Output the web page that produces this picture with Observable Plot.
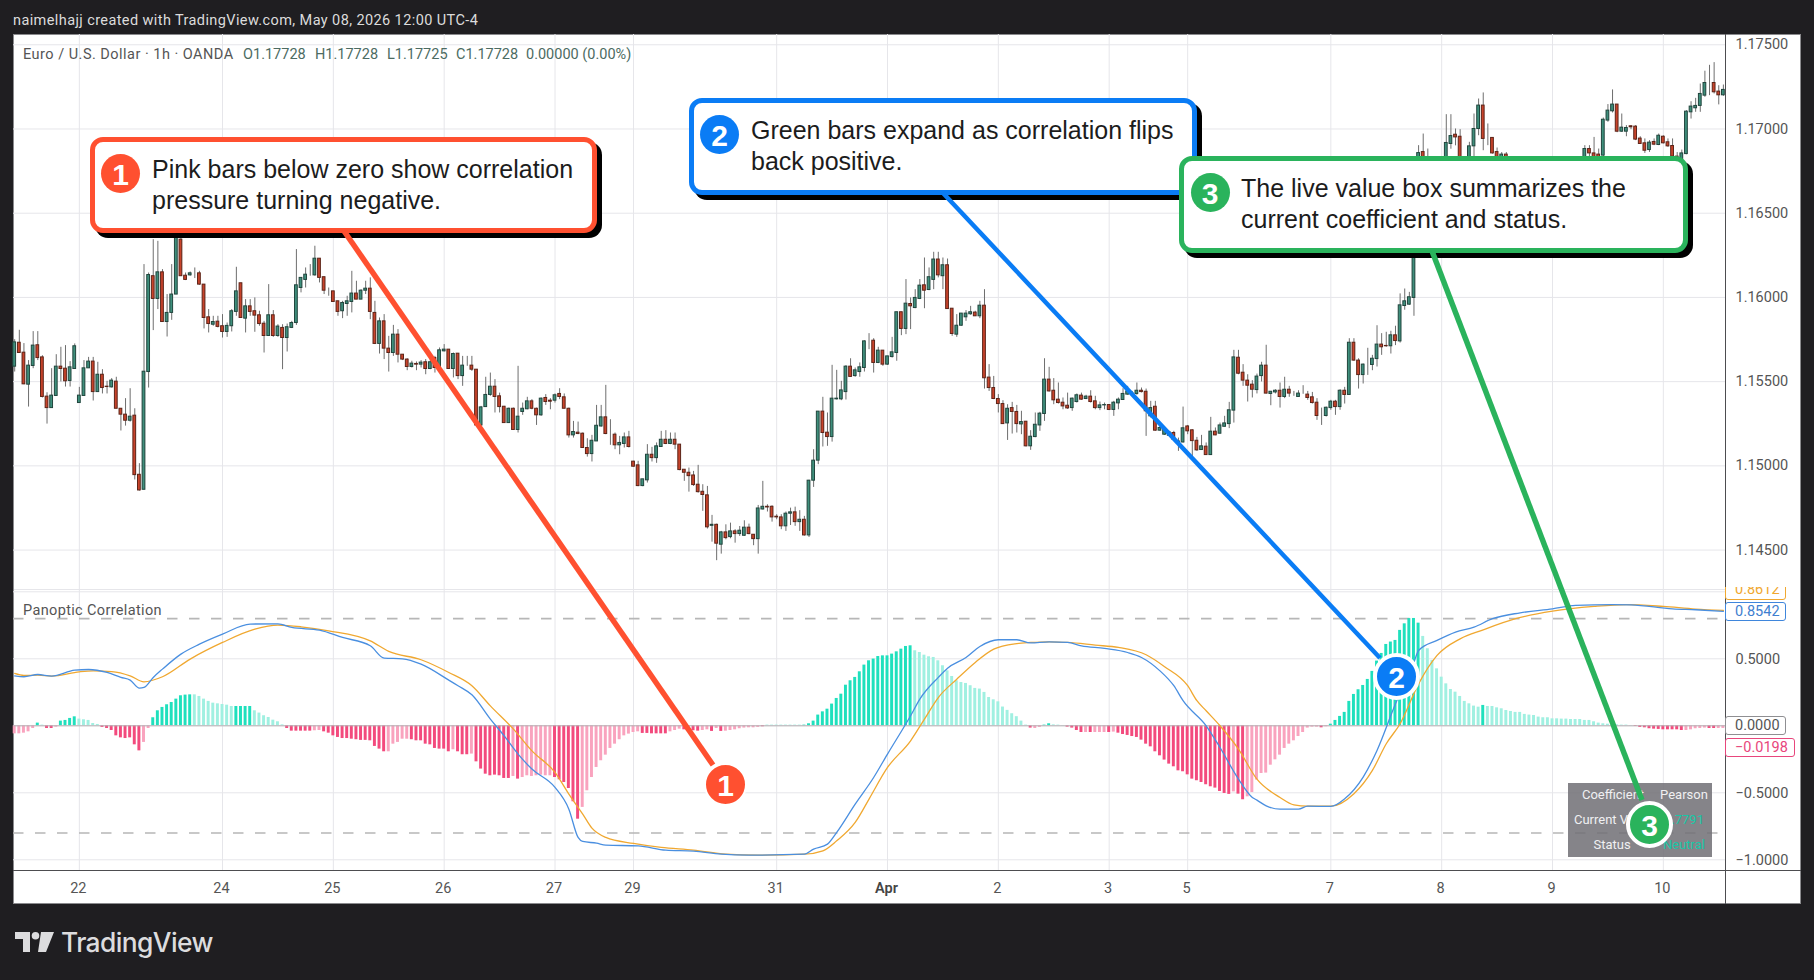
<!DOCTYPE html>
<html>
<head>
<meta charset="utf-8">
<script src="https://cdn.jsdelivr.net/npm/d3@7"></script>
<script src="https://cdn.jsdelivr.net/npm/@observablehq/plot@0.6"></script>
<style>
html,body{margin:0;padding:0;background:#1f1e21;}
#root{position:relative;width:1814px;height:980px;overflow:hidden;background:#1f1e21;font-family:Roboto,sans-serif;}
#root>*{position:absolute;}
#panel{left:13px;top:34px;width:1788px;height:870px;background:#fff;box-shadow:inset 0 0 0 1px #8a8a8d;}
#price,#corr{left:13px;}
#price{top:34px;}#corr{top:590px;}
svg{display:block;background:transparent;overflow:visible;}
.tv{color:#555;font-size:14.5px;white-space:nowrap;line-height:18px;}
.callout{box-sizing:border-box;border:5.5px solid;border-radius:13px;background:#fff;box-shadow:5px 5px 0 #000;}
.ctext{font-family:"Liberation Sans",Arial,sans-serif;font-size:25px;line-height:31px;color:#1c1c1c;white-space:nowrap;}
.badge{box-sizing:content-box;border-radius:50%;color:#fff;font-family:"Liberation Sans",Arial,sans-serif;font-weight:700;font-size:30px;text-align:center;}
.plabel{box-sizing:border-box;background:#fff;border:1.3px solid;border-radius:3px;font-size:14.5px;height:19.5px;line-height:18px;padding-left:9px;white-space:nowrap;}
.cell{font-size:13px;color:#f0f0f2;white-space:nowrap;transform:translateX(-50%);line-height:16px;}
</style>
</head>
<body>
<div id="root">
  <div class="tv" style="left:13px;top:11.5px;color:#dcdcdc;letter-spacing:.4px">naimelhajj created with TradingView.com, May 08, 2026 12:00 UTC-4</div>
  <div id="panel"></div>
  <div style="left:14px;top:589px;width:1711px;height:1px;background:#e6e6ea"></div>
  <div id="price"></div>
  <div id="corr"></div>
  <div class="tv" style="left:23px;top:46px;letter-spacing:.48px">Euro / U.S. Dollar · 1h · OANDA</div>
  <div class="tv" style="left:243px;top:46px;color:#4c6b62">O1.17728</div>
  <div class="tv" style="left:315px;top:46px;color:#4c6b62">H1.17728</div>
  <div class="tv" style="left:387px;top:46px;color:#4c6b62">L1.17725</div>
  <div class="tv" style="left:456px;top:46px;color:#4c6b62">C1.17728</div>
  <div class="tv" style="left:526px;top:46px;color:#4c6b62">0.00000 (0.00%)</div>
  <div class="tv" style="left:23px;top:602px;letter-spacing:.35px">Panoptic Correlation</div>

  <div style="left:1725px;top:34px;width:1.3px;height:870px;background:#4d4d50"></div>
  <div style="left:13px;top:870px;width:1788px;height:1.3px;background:#4d4d50"></div>

  <div style="left:1725px;top:587px;width:62px;height:12.5px;overflow:hidden">
    <div class="plabel" style="position:absolute;top:-7px;left:0;width:61px;border-color:#f0a830;color:#f0a830">0.8612</div>
  </div>
  <div class="plabel" style="left:1725px;top:601.5px;width:61px;border-color:#3f86dc;color:#3f7fd0">0.8542</div>
  <div class="plabel" style="left:1725px;top:715.5px;width:61px;border-color:#8f8f92;color:#555">0.0000</div>
  <div class="plabel" style="left:1725px;top:737.5px;width:70px;border-color:#e8467c;color:#e8467c">−0.0198</div>

  <div style="left:1568px;top:783px;width:144px;height:74px;background:rgba(112,111,116,.85)"></div>
  <div class="cell" style="left:1613px;top:787px">Coefficient</div>
  <div class="cell" style="left:1613px;top:812px">Current Value</div>
  <div class="cell" style="left:1612px;top:837px">Status</div>
  <div class="cell" style="left:1684px;top:787px">Pearson</div>
  <div class="cell" style="left:1684px;top:812px;color:#18c7a6">0.7791</div>
  <div class="cell" style="left:1684px;top:837px;color:#18c7a6">Neutral</div>

  <div class="callout" style="left:90px;top:137px;width:507px;height:96px;border-color:#ff5030"></div>
  <div class="badge" style="left:101px;top:153.5px;width:39px;height:39px;line-height:41px;background:#ff5030">1</div>
  <div class="ctext" style="left:152px;top:154px">Pink bars below zero show correlation</div>
  <div class="ctext" style="left:152px;top:185px">pressure turning negative.</div>

  <div class="callout" style="left:689px;top:98px;width:508px;height:97px;border-color:#0a7cf5"></div>
  <div class="badge" style="left:700px;top:114.5px;width:39px;height:39px;line-height:41px;background:#0a7cf5">2</div>
  <div class="ctext" style="left:751px;top:115px">Green bars expand as correlation flips</div>
  <div class="ctext" style="left:751px;top:146px">back positive.</div>

  <div class="callout" style="left:1179px;top:156px;width:509px;height:97px;border-color:#2ab35c"></div>
  <div class="badge" style="left:1190.5px;top:172.5px;width:39px;height:39px;line-height:41px;background:#2ab35c">3</div>
  <div class="ctext" style="left:1241px;top:173px">The live value box summarizes the</div>
  <div class="ctext" style="left:1241px;top:204px">current coefficient and status.</div>

  <div id="leaders"></div>

  <div class="badge" style="left:704px;top:763px;width:39px;height:39px;line-height:41px;background:#ff5030;border:2px solid #fff">1</div>
  <div class="badge" style="left:1373px;top:653px;width:39px;height:39px;line-height:41px;background:#0a7cf5;border:4px solid #fff">2</div>
  <div class="badge" style="left:1626px;top:801px;width:39px;height:39px;line-height:41px;background:#2ab35c;border:4.5px solid #fff">3</div>

  <svg style="left:15px;top:932px" width="40" height="21" viewBox="0 0 40 21">
    <path d="M0 0H15V20H8V7H0Z M26 0H39L31 20H23Z" fill="#dcdcde"/><circle cx="20.5" cy="3.8" r="3.8" fill="#dcdcde"/>
  </svg>
  <div style="left:61px;top:924px;font-family:Inter,Roboto,sans-serif;font-size:26.4px;font-weight:500;color:#dcdcde;letter-spacing:-.6px;line-height:36px">TradingView</div>
</div>

<script>
const open = [
1.15589,1.15731,1.15672,1.15482,1.15593,1.15716,1.15644,1.15411,1.15343,1.15415,
1.15589,1.15577,1.15504,1.15575,1.15373,1.15415,1.15579,1.15619,1.15438,1.15541,
1.15470,1.15466,1.15500,1.15339,1.15304,1.15268,1.15298,1.14947,1.14858,1.15557,
1.16126,1.15991,1.16149,1.15854,1.15908,1.16017,1.16343,1.16129,1.16131,1.16141,
1.16143,1.16076,1.15882,1.15838,1.15856,1.15829,1.15795,1.15829,1.15914,1.16084,
1.15874,1.15947,1.15918,1.15894,1.15844,1.15771,1.15894,1.15771,1.15819,1.15759,
1.15819,1.15848,1.16056,1.16104,1.16135,1.16131,1.16230,1.16120,1.16040,1.16036,
1.15977,1.15918,1.15961,1.15973,1.16023,1.15987,1.16040,1.16052,1.15908,1.15724,
1.15858,1.15696,1.15670,1.15779,1.15660,1.15631,1.15587,1.15605,1.15601,1.15615,
1.15575,1.15640,1.15581,1.15680,1.15690,1.15575,1.15666,1.15533,1.15595,1.15595,
1.15571,1.15240,1.15349,1.15421,1.15470,1.15413,1.15351,1.15254,1.15339,1.15213,
1.15320,1.15336,1.15383,1.15339,1.15300,1.15403,1.15387,1.15387,1.15427,1.15407,
1.15339,1.15181,1.15197,1.15191,1.15106,1.15070,1.15145,1.15234,1.15288,1.15191,
1.15185,1.15122,1.15130,1.15169,1.15025,1.15003,1.14880,1.14914,1.15066,1.15046,
1.15112,1.15155,1.15130,1.15155,1.15126,1.14977,1.14959,1.14943,1.14888,1.14846,
1.14825,1.14644,1.14650,1.14532,1.14605,1.14577,1.14611,1.14595,1.14585,1.14633,
1.14591,1.14565,1.14741,1.14757,1.14757,1.14698,1.14694,1.14641,1.14716,1.14724,
1.14666,1.14680,1.14587,1.14912,1.15031,1.15322,1.15197,1.15171,1.15395,1.15395,
1.15438,1.15589,1.15533,1.15557,1.15581,1.15743,1.15743,1.15611,1.15684,1.15601,
1.15646,1.15670,1.15912,1.15813,1.15961,1.15937,1.15991,1.16072,1.16044,1.16104,
1.16225,1.16126,1.16191,1.15933,1.15779,1.15832,1.15882,1.15900,1.15910,1.15888,
1.15951,1.15524,1.15462,1.15397,1.15367,1.15252,1.15343,1.15320,1.15246,1.15262,
1.15116,1.15171,1.15240,1.15308,1.15512,1.15446,1.15393,1.15375,1.15357,1.15343,
1.15379,1.15417,1.15397,1.15411,1.15383,1.15343,1.15359,1.15361,1.15332,1.15371,
1.15391,1.15423,1.15427,1.15427,1.15446,1.15440,1.15294,1.15351,1.15209,1.15185,
1.15179,1.15195,1.15135,1.15139,1.15234,1.15211,1.15149,1.15094,1.15114,1.15064,
1.15203,1.15191,1.15232,1.15248,1.15328,1.15642,1.15553,1.15506,1.15482,1.15450,
1.15533,1.15595,1.15427,1.15436,1.15446,1.15409,1.15452,1.15427,1.15409,1.15429,
1.15423,1.15407,1.15375,1.15298,1.15296,1.15343,1.15381,1.15349,1.15446,1.15421,
1.15731,1.15625,1.15539,1.15601,1.15599,1.15634,1.15720,1.15712,1.15710,1.15775,
1.15739,1.15949,1.15957,1.15997,1.16450,1.16863,1.16700,1.16760,1.16650,1.16600,
1.16800,1.16911,1.16966,1.16954,1.16650,1.16700,1.16897,1.17000,1.17139,1.16941,
1.16947,1.16863,1.16800,1.16848,1.16700,1.16640,1.16580,1.16620,1.16560,1.16500,
1.16550,1.16600,1.16540,1.16580,1.16620,1.16590,1.16650,1.16600,1.16660,1.16720,
1.16790,1.16881,1.16855,1.16848,1.16842,1.17050,1.17105,1.17145,1.16984,1.16984,
1.17016,1.17014,1.16943,1.16915,1.16875,1.16923,1.16905,1.16954,1.16921,1.16899,
1.16836,1.16790,1.16851,1.17099,1.17123,1.17137,1.17198,1.17273,1.17273,1.17222,1.17200];
const high = [
1.15749,1.15805,1.15726,1.15625,1.15797,1.15797,1.15654,1.15434,1.15577,1.15660,
1.15704,1.15714,1.15619,1.15724,1.15466,1.15625,1.15644,1.15644,1.15615,1.15571,
1.15502,1.15518,1.15526,1.15339,1.15399,1.15458,1.15339,1.15013,1.16195,1.16145,
1.16343,1.16333,1.16165,1.16017,1.16195,1.16492,1.16452,1.16145,1.16151,1.16175,
1.16155,1.16076,1.15928,1.15888,1.15888,1.15898,1.15848,1.15928,1.16179,1.16084,
1.15987,1.15987,1.15997,1.15918,1.15858,1.16076,1.15922,1.15838,1.15838,1.15842,
1.15858,1.16284,1.16116,1.16175,1.16195,1.16304,1.16230,1.16120,1.16056,1.16036,
1.15977,1.15977,1.16007,1.16155,1.16096,1.16046,1.16096,1.16116,1.15977,1.15878,
1.15898,1.15769,1.15834,1.15809,1.15660,1.15636,1.15621,1.15617,1.15625,1.15631,
1.15640,1.15650,1.15700,1.15720,1.15690,1.15670,1.15666,1.15650,1.15650,1.15650,
1.15571,1.15353,1.15526,1.15551,1.15512,1.15432,1.15353,1.15343,1.15343,1.15591,
1.15373,1.15407,1.15393,1.15343,1.15403,1.15423,1.15399,1.15427,1.15458,1.15427,
1.15343,1.15264,1.15260,1.15195,1.15161,1.15181,1.15359,1.15359,1.15478,1.15274,
1.15195,1.15175,1.15195,1.15205,1.15027,1.15027,1.14920,1.15126,1.15110,1.15136,
1.15205,1.15209,1.15195,1.15195,1.15126,1.14977,1.14987,1.14967,1.15003,1.14888,
1.14878,1.14706,1.14654,1.14611,1.14650,1.14660,1.14621,1.14640,1.14674,1.14654,
1.14591,1.14765,1.14908,1.14769,1.14763,1.14710,1.14710,1.14726,1.14749,1.14755,
1.14734,1.14700,1.14914,1.15096,1.15322,1.15407,1.15314,1.15597,1.15567,1.15502,
1.15595,1.15636,1.15581,1.15611,1.15743,1.15785,1.15755,1.15704,1.15684,1.15650,
1.15763,1.15912,1.15912,1.16106,1.15997,1.16046,1.16106,1.16234,1.16175,1.16268,
1.16268,1.16234,1.16228,1.15933,1.15898,1.15904,1.15922,1.15947,1.15918,1.15977,
1.16046,1.15601,1.15531,1.15423,1.15387,1.15363,1.15377,1.15359,1.15324,1.15264,
1.15209,1.15314,1.15318,1.15636,1.15585,1.15518,1.15492,1.15403,1.15432,1.15403,
1.15427,1.15432,1.15419,1.15446,1.15413,1.15379,1.15373,1.15363,1.15383,1.15403,
1.15458,1.15472,1.15442,1.15492,1.15462,1.15456,1.15383,1.15383,1.15234,1.15221,
1.15205,1.15205,1.15165,1.15349,1.15240,1.15215,1.15169,1.15181,1.15136,1.15288,
1.15225,1.15254,1.15294,1.15377,1.15686,1.15686,1.15601,1.15541,1.15506,1.15545,
1.15615,1.15716,1.15440,1.15452,1.15492,1.15526,1.15472,1.15442,1.15446,1.15476,
1.15442,1.15436,1.15399,1.15343,1.15349,1.15389,1.15389,1.15452,1.15466,1.15755,
1.15755,1.15636,1.15605,1.15698,1.15656,1.15832,1.15785,1.15793,1.15799,1.15829,
1.16021,1.16050,1.16030,1.16470,1.16901,1.16970,1.16881,1.16800,1.16700,1.16830,
1.17085,1.17085,1.17000,1.16996,1.16820,1.16921,1.17089,1.17178,1.17214,1.17030,
1.16947,1.16887,1.16860,1.16860,1.16740,1.16680,1.16660,1.16650,1.16600,1.16590,
1.16640,1.16630,1.16620,1.16670,1.16650,1.16690,1.16680,1.16700,1.16760,1.16820,
1.16901,1.16901,1.16950,1.16881,1.17065,1.17145,1.17232,1.17145,1.17089,1.17020,
1.17020,1.17020,1.16954,1.16941,1.16931,1.16941,1.16970,1.16960,1.16941,1.16941,
1.16860,1.16875,1.17109,1.17162,1.17182,1.17267,1.17343,1.17378,1.17394,1.17257,1.17261];
const low = [
1.15557,1.15670,1.15482,1.15349,1.15577,1.15625,1.15403,1.15248,1.15343,1.15415,
1.15498,1.15468,1.15468,1.15575,1.15373,1.15415,1.15581,1.15385,1.15438,1.15427,
1.15427,1.15462,1.15339,1.15207,1.15236,1.15260,1.14916,1.14850,1.14858,1.15462,
1.15803,1.15928,1.15854,1.15765,1.15864,1.16017,1.16126,1.16100,1.16126,1.16112,
1.16072,1.15813,1.15789,1.15829,1.15819,1.15759,1.15763,1.15795,1.15888,1.15878,
1.15789,1.15888,1.15793,1.15829,1.15670,1.15771,1.15763,1.15763,1.15571,1.15676,
1.15815,1.15834,1.16027,1.16056,1.16126,1.16126,1.16086,1.16017,1.16007,1.15971,
1.15888,1.15874,1.15888,1.15908,1.15987,1.15987,1.16017,1.15868,1.15720,1.15664,
1.15631,1.15557,1.15650,1.15611,1.15625,1.15565,1.15581,1.15565,1.15581,1.15541,
1.15571,1.15551,1.15581,1.15676,1.15575,1.15522,1.15512,1.15472,1.15591,1.15561,
1.15240,1.15234,1.15349,1.15413,1.15314,1.15314,1.15254,1.15254,1.15213,1.15195,
1.15300,1.15333,1.15333,1.15240,1.15294,1.15359,1.15333,1.15373,1.15393,1.15339,
1.15165,1.15165,1.15185,1.15106,1.15052,1.15023,1.15145,1.15229,1.15185,1.15122,
1.15096,1.15066,1.15106,1.15106,1.14993,1.14876,1.14876,1.14898,1.15023,1.15015,
1.15110,1.15126,1.15126,1.15096,1.14971,1.14908,1.14844,1.14878,1.14838,1.14730,
1.14625,1.14547,1.14437,1.14476,1.14561,1.14567,1.14541,1.14581,1.14581,1.14591,
1.14526,1.14476,1.14738,1.14726,1.14666,1.14680,1.14621,1.14611,1.14646,1.14641,
1.14611,1.14583,1.14575,1.14872,1.15007,1.15112,1.15116,1.15141,1.15391,1.15387,
1.15391,1.15526,1.15526,1.15526,1.15557,1.15690,1.15551,1.15607,1.15591,1.15597,
1.15640,1.15621,1.15773,1.15779,1.15809,1.15933,1.15987,1.15933,1.16040,1.16046,
1.16116,1.16046,1.15931,1.15769,1.15763,1.15829,1.15858,1.15894,1.15888,1.15874,
1.15456,1.15442,1.15393,1.15314,1.15248,1.15151,1.15189,1.15195,1.15185,1.15112,
1.15092,1.15167,1.15205,1.15264,1.15438,1.15363,1.15367,1.15333,1.15335,1.15324,
1.15373,1.15389,1.15393,1.15373,1.15333,1.15328,1.15333,1.15328,1.15294,1.15333,
1.15391,1.15419,1.15417,1.15419,1.15433,1.15175,1.15284,1.15205,1.15205,1.15181,
1.15175,1.15149,1.15086,1.15135,1.15185,1.15046,1.15086,1.15092,1.15062,1.15062,
1.15179,1.15189,1.15231,1.15221,1.15254,1.15541,1.15472,1.15379,1.15403,1.15427,
1.15498,1.15427,1.15357,1.15427,1.15343,1.15399,1.15407,1.15413,1.15407,1.15425,
1.15389,1.15367,1.15270,1.15240,1.15290,1.15330,1.15300,1.15330,1.15367,1.15421,
1.15621,1.15456,1.15486,1.15537,1.15565,1.15587,1.15656,1.15704,1.15664,1.15714,
1.15729,1.15924,1.15953,1.15888,1.16400,1.16650,1.16640,1.16600,1.16560,1.16570,
1.16760,1.16880,1.16900,1.16600,1.16600,1.16680,1.16830,1.16960,1.16871,1.16901,
1.16851,1.16750,1.16780,1.16680,1.16600,1.16540,1.16550,1.16520,1.16470,1.16480,
1.16520,1.16510,1.16520,1.16560,1.16560,1.16570,1.16580,1.16580,1.16640,1.16700,
1.16760,1.16830,1.16700,1.16700,1.16800,1.17040,1.17095,1.16978,1.16980,1.16954,
1.16996,1.16931,1.16911,1.16855,1.16861,1.16901,1.16901,1.16911,1.16891,1.16832,
1.16760,1.16770,1.16847,1.17059,1.17099,1.17099,1.17188,1.17198,1.17208,1.17143,1.17194];
const close = [
1.15733,1.15670,1.15484,1.15595,1.15714,1.15640,1.15409,1.15343,1.15417,1.15589,
1.15575,1.15502,1.15585,1.15710,1.15417,1.15579,1.15619,1.15438,1.15541,1.15462,
1.15468,1.15506,1.15339,1.15304,1.15268,1.15292,1.14945,1.14854,1.15559,1.16133,
1.15991,1.16149,1.15854,1.15908,1.16017,1.16373,1.16126,1.16104,1.16143,1.16141,
1.16076,1.15878,1.15842,1.15854,1.15825,1.15795,1.15831,1.15918,1.16036,1.15878,
1.15947,1.15914,1.15892,1.15842,1.15771,1.15894,1.15771,1.15827,1.15759,1.15823,
1.15848,1.16072,1.16116,1.16135,1.16135,1.16230,1.16116,1.16040,1.16040,1.15973,
1.15914,1.15967,1.15977,1.16023,1.15987,1.16040,1.16052,1.15914,1.15724,1.15858,
1.15696,1.15670,1.15779,1.15660,1.15631,1.15587,1.15607,1.15601,1.15613,1.15575,
1.15615,1.15581,1.15686,1.15690,1.15575,1.15664,1.15533,1.15595,1.15595,1.15571,
1.15240,1.15347,1.15421,1.15470,1.15409,1.15349,1.15254,1.15339,1.15213,1.15292,
1.15339,1.15383,1.15339,1.15300,1.15399,1.15379,1.15381,1.15419,1.15409,1.15339,
1.15181,1.15201,1.15189,1.15106,1.15070,1.15149,1.15238,1.15288,1.15189,1.15191,
1.15122,1.15136,1.15169,1.15112,1.14995,1.14880,1.14920,1.15066,1.15046,1.15116,
1.15155,1.15130,1.15155,1.15126,1.14975,1.14959,1.14939,1.14886,1.14844,1.14827,
1.14635,1.14650,1.14538,1.14605,1.14571,1.14611,1.14595,1.14615,1.14633,1.14595,
1.14565,1.14747,1.14757,1.14753,1.14694,1.14694,1.14641,1.14716,1.14724,1.14666,
1.14680,1.14587,1.14912,1.15031,1.15322,1.15195,1.15171,1.15399,1.15399,1.15448,
1.15589,1.15528,1.15567,1.15585,1.15739,1.15743,1.15611,1.15684,1.15601,1.15650,
1.15674,1.15912,1.15813,1.15963,1.15947,1.15997,1.16070,1.16040,1.16120,1.16225,
1.16131,1.16191,1.15931,1.15783,1.15832,1.15904,1.15904,1.15912,1.15888,1.15951,
1.15520,1.15462,1.15397,1.15367,1.15248,1.15339,1.15320,1.15248,1.15260,1.15116,
1.15173,1.15244,1.15310,1.15512,1.15442,1.15389,1.15373,1.15353,1.15341,1.15399,
1.15419,1.15393,1.15411,1.15379,1.15343,1.15359,1.15361,1.15332,1.15375,1.15393,
1.15427,1.15442,1.15429,1.15446,1.15438,1.15324,1.15343,1.15209,1.15225,1.15215,
1.15199,1.15155,1.15145,1.15223,1.15205,1.15147,1.15092,1.15116,1.15064,1.15203,
1.15181,1.15240,1.15252,1.15330,1.15644,1.15547,1.15506,1.15476,1.15452,1.15530,
1.15595,1.15429,1.15440,1.15446,1.15409,1.15452,1.15429,1.15427,1.15429,1.15429,
1.15403,1.15373,1.15296,1.15298,1.15345,1.15381,1.15349,1.15446,1.15421,1.15731,
1.15625,1.15539,1.15601,1.15601,1.15636,1.15720,1.15704,1.15710,1.15775,1.15741,
1.15953,1.15977,1.16001,1.16450,1.16857,1.16700,1.16760,1.16650,1.16600,1.16800,
1.16917,1.16958,1.16950,1.16650,1.16700,1.16897,1.17000,1.17139,1.16941,1.16941,
1.16855,1.16800,1.16848,1.16700,1.16640,1.16580,1.16620,1.16560,1.16500,1.16550,
1.16600,1.16540,1.16580,1.16620,1.16590,1.16650,1.16600,1.16660,1.16720,1.16790,
1.16881,1.16855,1.16740,1.16740,1.17055,1.17109,1.17145,1.16984,1.17008,1.17006,
1.17010,1.16937,1.16911,1.16871,1.16919,1.16907,1.16960,1.16915,1.16897,1.16836,
1.16790,1.16855,1.17103,1.17133,1.17137,1.17208,1.17273,1.17273,1.17218,1.17200,1.17232];

const hist = [
-.060,-.060,-.055,-.045,-.020,.020,.005,-.020,-.020,-.010,
.035,.040,.055,.067,.050,.045,.040,.017,.010,-.012,
-.020,-.035,-.075,-.090,-.095,-.090,-.142,-.187,-.124,-.020,
.060,.112,.137,.157,.174,.199,.224,.229,.231,.231,
.219,.199,.182,.169,.164,.159,.154,.144,.144,.144,
.144,.144,.112,.095,.075,.062,.042,.030,.007,-.020,
-.040,-.040,-.040,-.040,-.040,-.037,-.035,-.045,-.055,-.075,
-.087,-.095,-.095,-.100,-.104,-.109,-.109,-.112,-.154,-.174,
-.194,-.194,-.137,-.124,-.100,-.100,-.104,-.112,-.112,-.137,
-.142,-.169,-.174,-.174,-.194,-.179,-.194,-.216,-.216,-.211,
-.269,-.323,-.361,-.373,-.368,-.373,-.393,-.393,-.378,-.398,
-.386,-.373,-.378,-.373,-.368,-.373,-.373,-.386,-.403,-.423,
-.468,-.567,-.697,-.609,-.485,-.386,-.311,-.261,-.219,-.169,
-.137,-.104,-.075,-.062,-.050,-.045,-.057,-.057,-.060,-.060,
-.060,-.060,-.045,-.035,-.025,-.030,-.025,-.037,-.040,-.035,
-.030,-.042,-.020,-.042,-.040,-.035,-.030,-.022,-.017,-.015,
-.015,-.012,-.007,.005,.005,.005,.005,.005,.005,.005,
.005,.005,.015,.035,.080,.104,.124,.162,.204,.236,
.303,.336,.361,.403,.453,.485,.498,.517,.522,.522,
.535,.552,.572,.592,.597,.560,.547,.527,.515,.510,
.485,.448,.410,.368,.336,.323,.316,.299,.279,.274,
.249,.211,.194,.179,.140,.115,.090,.068,.035,.005,
-.017,-.020,-.012,.005,.015,.007,.005,.002,-.010,-.017,
-.035,-.050,-.050,-.050,-.050,-.050,-.050,-.050,-.047,-.055,
-.065,-.072,-.080,-.087,-.107,-.137,-.157,-.194,-.224,-.256,
-.286,-.306,-.336,-.343,-.366,-.398,-.410,-.423,-.440,-.455,
-.465,-.490,-.505,-.512,-.493,-.510,-.552,-.530,-.498,-.405,
-.356,-.353,-.294,-.254,-.219,-.169,-.137,-.112,-.080,-.050,
-.017,-.010,-.010,-.015,-.007,.012,.040,.070,.100,.182,
.234,.269,.301,.346,.406,.483,.540,.607,.625,.637,
.712,.761,.800,.801,.766,.667,.575,.488,.425,.363,
.313,.271,.251,.219,.182,.164,.147,.139,.152,.144,
.144,.134,.127,.114,.107,.100,.100,.085,.080,.077,
.065,.060,.060,.052,.052,.050,.050,.047,.047,.047,
.040,.040,.030,.020,.015,.012,.010,.007,.005,.005,
.002,-.005,-.012,-.015,-.022,-.025,-.027,-.030,-.030,-.030,
-.030,-.035,-.035,-.030,-.022,-.020,-.017,-.020,-.020,-.020,-.0198];
// inclusive bar ranges whose histogram bar is drawn in the saturated shade
const histStrongRuns = [[5,5],[7,8],[10,13],[19,27],[30,38],[48,51],[59,64],[67,80],[86,94],[96,98],[100,107],[109,109],[117,122],[136,141],[145,145],[147,148],[151,151],[153,153],[162,162],[171,194],[220,220],[223,224],[228,231],[233,233],[237,237],[239,263],[265,266],[283,283],[285,304],[318,318],[351,361],[367,368]];

const blueBars = [0,2,5,8,13,16,20,23,25,27,28,30,32,36,40,45,51,57,60,66,71,77,80,84,88,94,96,99,103,106,109,112,117,120,122,123,126,128,135,141,147,153,159,171,173,176,178,182,186,189,194,196,200,202,206,209,213,217,220,224,228,231,236,241,244,248,251,253,258,261,265,268,269,271,274,278,280,285,288,292,295,299,303,304,308,312,316,320,326,333,338,346,350,359,364,370];
const blueValues = [.373,.366,.383,.371,.415,.420,.398,.361,.341,.281,.286,.361,.423,.535,.609,.684,.759,.761,.734,.714,.659,.597,.505,.500,.460,.341,.299,.231,.050,-.075,-.211,-.323,-.460,-.622,-.833,-.863,-.876,-.891,-.896,-.928,-.935,-.958,-.965,-.958,-.920,-.883,-.796,-.585,-.386,-.211,.075,.199,.361,.430,.510,.592,.642,.642,.619,.627,.622,.597,.577,.547,.510,.410,.299,.187,0,-.162,-.398,-.535,-.555,-.597,-.622,-.622,-.600,-.602,-.545,-.383,-.184,.164,.475,.562,.637,.699,.736,.799,.843,.873,.898,.905,.903,.873,.866,.8542];
const orangeBars = [0,2,5,8,14,17,21,25,28,32,38,45,52,57,62,68,77,81,88,94,99,103,108,112,117,120,123,125,128,134,140,147,154,161,171,175,178,182,185,189,194,197,200,204,208,212,217,220,224,228,234,239,245,249,254,256,258,261,265,269,274,277,280,285,290,294,297,300,304,308,313,318,325,333,342,349,357,364,370];
const orangeValues = [.391,.376,.378,.371,.403,.410,.405,.373,.328,.366,.498,.622,.721,.751,.739,.709,.634,.555,.493,.398,.299,.149,-.025,-.187,-.348,-.510,-.659,-.764,-.833,-.878,-.908,-.928,-.958,-.965,-.958,-.933,-.858,-.721,-.547,-.311,-.112,.050,.211,.348,.473,.572,.614,.622,.627,.622,.602,.585,.530,.441,.299,.187,.112,0,-.174,-.398,-.535,-.590,-.600,-.600,-.507,-.333,-.134,.015,.313,.525,.649,.716,.799,.856,.891,.905,.891,.871,.8612];

const tickBars   = [14,45,69,93,117,134,165,189,213,237,254,285,309,333,357];
const tickLabels = ["22","24","25","26","27","29","31","Apr","2","3","5","7","8","9","10"];
const priceTicks = [1.145,1.15,1.155,1.16,1.165,1.17,1.175];
const corrTicks  = [0.5,-0.5,-1];
const gridCorr   = [1,0.5,0,-0.5,-1];
const dashLevels = [0.8,-0.8];

const bars = open.map((o,i)=>({i,open:o,high:high[i],low:low[i],close:close[i]}));
const strongSet = new Set(histStrongRuns.flatMap(([a,b])=>d3.range(a,b+1)));
const histBars = hist.map((v,i)=>({i,v,strong:strongSet.has(i)}));
const ticks = tickBars.map((i,k)=>({i,label:tickLabels[k]}));
const blue = blueBars.map((i,k)=>({i,v:blueValues[k]}));
const orange = orangeBars.map((i,k)=>({i,v:orangeValues[k]}));

const xDomain = [-0.26,370.46];
const gridColor = "#e6e6ea";
const axisStyle = {fontFamily:"Roboto,sans-serif",fontSize:"14.5px",color:"#555",background:"transparent",overflow:"visible"};

const pricePlot = Plot.plot({
  width:1788,height:556,marginLeft:0,marginRight:76,marginTop:0,marginBottom:0,
  x:{domain:xDomain,axis:null},
  y:{domain:[1.1426,1.17561],axis:null},
  color:{type:"identity"},
  style:axisStyle,
  marks:[
    Plot.ruleX(ticks,{x:"i",stroke:gridColor,strokeWidth:1}),
    Plot.ruleY(priceTicks,{stroke:gridColor,strokeWidth:1}),
    Plot.axisY({anchor:"right",ticks:priceTicks,tickFormat:d3.format(".5f"),tickSize:0,tickPadding:10,label:null,fill:"#555"}),
    Plot.ruleX(bars,{x:"i",y1:"low",y2:"high",stroke:"#6e6e6e",strokeWidth:1}),
    Plot.rect(bars,{x1:d=>d.i-0.3,x2:d=>d.i+0.3,y1:"open",y2:"close",
      fill:d=>d.close>=d.open?"#3f8f7c":"#c8432b",
      stroke:d=>d.close>=d.open?"#21453d":"#5c2418",strokeWidth:1})
  ]
});
document.getElementById("price").appendChild(pricePlot);

const corrPlot = Plot.plot({
  width:1788,height:314,marginLeft:0,marginRight:76,marginTop:0,marginBottom:34,
  x:{domain:xDomain,axis:null},
  y:{domain:[-1.0799,1.0097],axis:null},
  color:{type:"identity"},
  style:axisStyle,
  marks:[
    Plot.ruleX(ticks,{x:"i",stroke:gridColor,strokeWidth:1}),
    Plot.ruleY(gridCorr,{stroke:gridColor,strokeWidth:1}),
    Plot.ruleY(dashLevels,{stroke:"#b7b7b7",strokeWidth:1.6,strokeDasharray:"10.5,11.5"}),
    Plot.axisY({anchor:"right",ticks:corrTicks,tickFormat:d3.format(".4f"),tickSize:0,tickPadding:10,label:null,fill:"#555",dy:1}),
    Plot.rect(histBars,{x1:d=>d.i-0.32,x2:d=>d.i+0.32,y1:d=>0,y2:"v",
      fill:d=>d.v>=0?(d.strong?"#1fe0bd":"#a0f0e1"):(d.strong?"#f34a7d":"#f9a3be")}),
    Plot.ruleY([0],{stroke:"#b9b2b6",strokeWidth:1}),
    Plot.line(orange,{x:"i",y:"v",stroke:"#f0a830",strokeWidth:1.3,curve:"monotone-x"}),
    Plot.line(blue,{x:"i",y:"v",stroke:"#4a8fe0",strokeWidth:1.3,curve:"monotone-x"}),
    Plot.text(ticks.filter(t=>t.label!=="Apr"),{x:"i",text:"label",frameAnchor:"bottom",lineAnchor:"middle",dx:-1,dy:18,fill:"#555",fontSize:14.5}),
    Plot.text(ticks.filter(t=>t.label==="Apr"),{x:"i",text:"label",frameAnchor:"bottom",lineAnchor:"middle",dx:-1,dy:18,fill:"#444",fontSize:14.5,fontWeight:600})
  ]
});
document.getElementById("corr").appendChild(corrPlot);

// callout leader lines (annotation overlay spanning both panes)
const leaders = [
  {a:[344,231],b:[713,765],c:"#ff5030",w:5.5},
  {a:[943,193],b:[1380,658],c:"#0a7cf5",w:4.5},
  {a:[1432,251],b:[1642,800],c:"#2ab35c",w:5.5}
];
const ns="http://www.w3.org/2000/svg";
const ov=document.createElementNS(ns,"svg");
ov.setAttribute("width",1814);ov.setAttribute("height",980);
ov.setAttribute("style","position:absolute;left:0;top:0");
leaders.forEach(l=>{const e=document.createElementNS(ns,"line");
  e.setAttribute("x1",l.a[0]);e.setAttribute("y1",l.a[1]);e.setAttribute("x2",l.b[0]);e.setAttribute("y2",l.b[1]);
  e.setAttribute("stroke",l.c);e.setAttribute("stroke-width",l.w);ov.appendChild(e);});
document.getElementById("leaders").appendChild(ov);
</script>
</body>
</html>
